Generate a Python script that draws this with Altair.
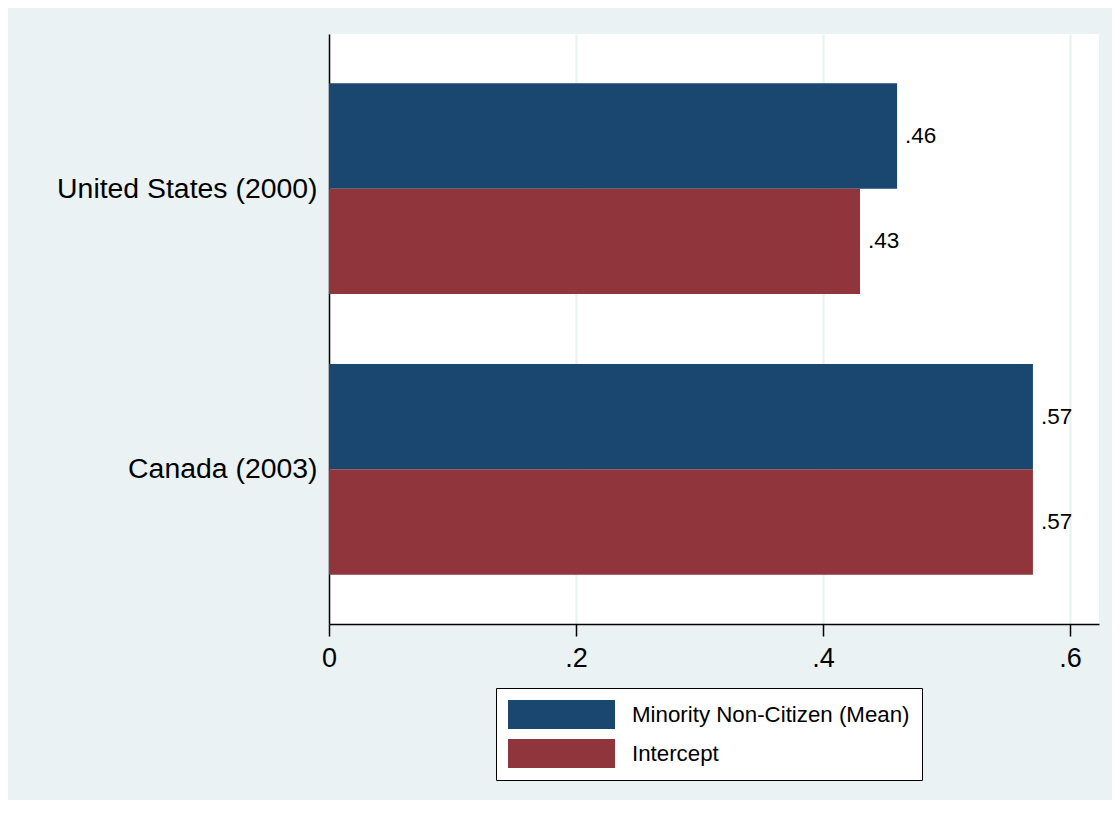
import altair as alt
import pandas as pd

countries = ["United States (2000)", "Canada (2003)"]
series = ["Minority Non-Citizen (Mean)", "Intercept"]
minority_mean = [0.46, 0.57]
intercept = [0.43, 0.57]
x_ticks = [0, 0.2, 0.4, 0.6]
colors = ["#1A476F", "#90353B"]

rows = []
for i, c in enumerate(countries):
    rows.append({"country": c, "series": series[0], "value": minority_mean[i]})
    rows.append({"country": c, "series": series[1], "value": intercept[i]})
df = pd.DataFrame(rows)

FONT = "Liberation Sans"

y_enc = alt.Y(
    "country:N",
    sort=countries,
    scale=alt.Scale(paddingInner=0.249, paddingOuter=0.1755),
    axis=alt.Axis(
        title=None, ticks=False, grid=False, domain=True,
        domainColor="#000000", domainWidth=1.5,
        labelFontSize=28.4, labelColor="#000000", labelPadding=12,
        labelFont=FONT, labelLimit=400,
    ),
)
yoff_enc = alt.YOffset("series:N", sort=series,
                       scale=alt.Scale(paddingInner=0, paddingOuter=0))
x_enc = alt.X(
    "value:Q",
    scale=alt.Scale(domain=[0, 0.6235], nice=False, zero=True),
    axis=alt.Axis(
        title=None, values=x_ticks,
        labelExpr="datum.value == 0 ? '0' : substring(format(datum.value, '.1f'), 1)",
        labelFlush=False,
        grid=True, gridColor="#EAF2F3", gridWidth=2.3,
        domainColor="#000000", domainWidth=1.5,
        tickColor="#000000", tickWidth=1.5, tickSize=12,
        labelFontSize=27, labelColor="#000000", labelPadding=9,
        labelFont=FONT,
    ),
)

bars = alt.Chart(df).mark_bar(strokeWidth=0).encode(
    y=y_enc,
    yOffset=yoff_enc,
    x=x_enc,
    color=alt.Color(
        "series:N",
        sort=series,
        scale=alt.Scale(domain=series, range=colors),
        legend=alt.Legend(
            title=None, orient="none", legendX=167, legendY=654,
            direction="vertical",
            fillColor="#FFFFFF", strokeColor="#000000",
            padding=12, cornerRadius=0,
            symbolType="M-1,-0.271L1,-0.271L1,0.271L-1,0.271Z",
            symbolSize=11449, symbolStrokeWidth=0, symbolOpacity=1,
            clipHeight=29, rowPadding=10,
            labelFontSize=22.3, labelOffset=17, labelColor="#000000",
            labelFont=FONT, labelLimit=600,
        ),
    ),
)

labels = alt.Chart(df).transform_calculate(
    lbl="substring(format(datum.value, '.2f'), 1)"
).mark_text(align="left", baseline="middle", dx=8, fontSize=22.5,
            font=FONT, color="#000000").encode(
    y=alt.Y("country:N", sort=countries),
    yOffset=alt.YOffset("series:N", sort=series),
    x=alt.X("value:Q"),
    text="lbl:N",
)

chart = alt.layer(bars, labels).properties(
    width=770,
    height=590,
    background="#EAF2F3",
    autosize=alt.AutoSizeParams(type="none"),
    padding={"left": 321, "top": 26, "right": 13, "bottom": 176},
).configure_view(fill="#FFFFFF", strokeWidth=0)

chart.save("out.html", embed_options={"renderer": "svg", "actions": False})
